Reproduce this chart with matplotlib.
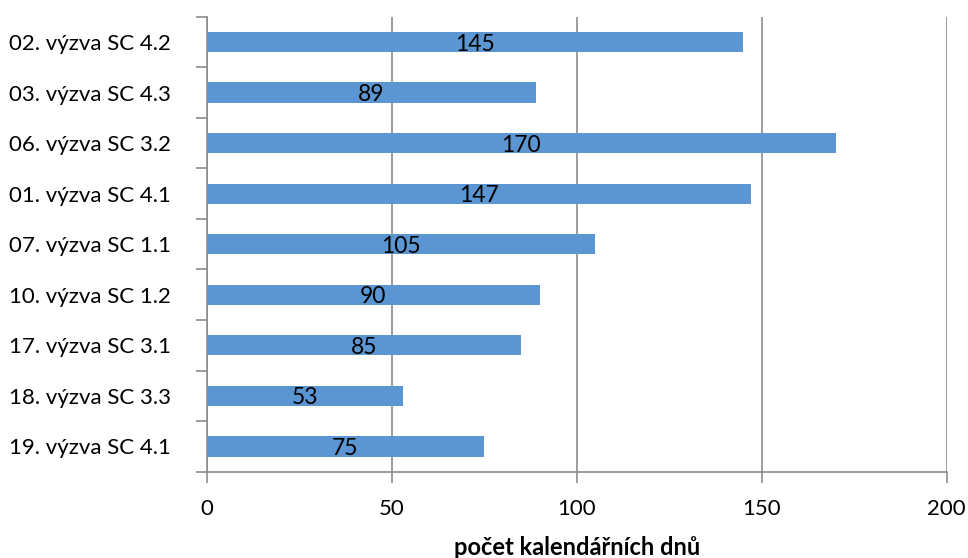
import matplotlib
matplotlib.use("Agg")
import matplotlib.pyplot as plt

categories = ["02. výzva SC 4.2", "03. výzva SC 4.3", "06. výzva SC 3.2",
              "01. výzva SC 4.1", "07. výzva SC 1.1", "10. výzva SC 1.2",
              "17. výzva SC 3.1", "18. výzva SC 3.3", "19. výzva SC 4.1"]
values = [145, 89, 170, 147, 105, 90, 85, 53, 75]
xticks = [0, 50, 100, 150, 200]

plt.rcParams["font.family"] = ["Lato", "DejaVu Sans"]
GRAY = "#8c8c8c"
BLUE = "#5b96d3"

fig = plt.figure(figsize=(9.68, 5.58), dpi=100)
ax = fig.add_axes([0.2135, 0.1547, 0.978 - 0.2135, 0.970 - 0.1547])

pos = list(range(len(categories)))
ax.barh(pos, values, height=0.4, color=BLUE, zorder=2)
for p, v in zip(pos, values):
    ax.text(v / 2, p + 0.04, str(v), ha="center", va="center",
            fontsize=16.5, color="black", zorder=3)

ax.set_xlim(0, 200)
ax.set_ylim(len(categories) - 0.5, -0.5)
ax.set_xticks(xticks)
ax.set_xticklabels([str(t) for t in xticks], fontsize=16)
ax.set_yticks(pos)
ax.set_yticklabels(categories, fontsize=16)
ax.set_yticks([i - 0.5 for i in range(len(categories) + 1)], minor=True)
ax.tick_params(axis="y", which="major", length=0, pad=26)
ax.tick_params(axis="y", which="minor", length=8, color=GRAY, width=1.2)
ax.tick_params(axis="x", length=8, color=GRAY, width=1.2, pad=12)
ax.grid(axis="x", color=GRAY, linewidth=1.2, zorder=1)

for s in ["top", "right"]:
    ax.spines[s].set_visible(False)
for s in ["left", "bottom"]:
    ax.spines[s].set_color(GRAY)
    ax.spines[s].set_linewidth(1.2)

ax.set_xlabel("počet kalendářních dnů", fontsize=17, fontweight="bold",
              labelpad=12)

fig.savefig("out.png", dpi=100)
